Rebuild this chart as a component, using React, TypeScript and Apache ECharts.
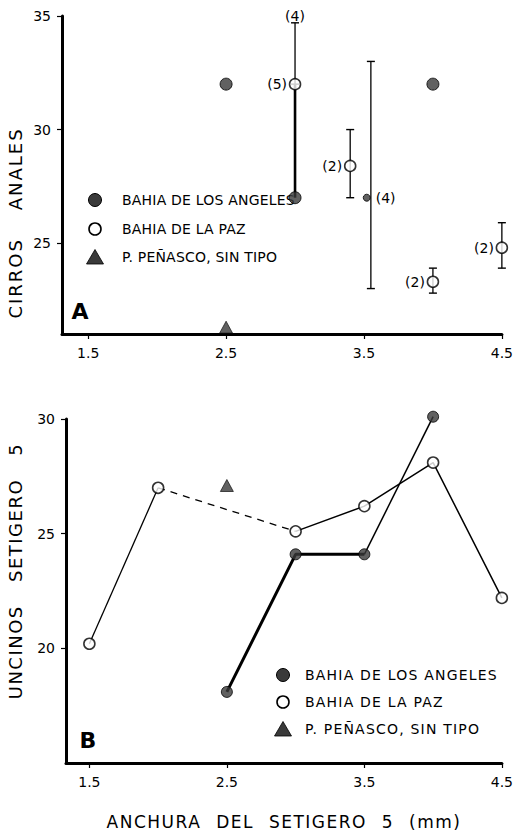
import React, { useEffect, useRef } from "react";
import * as echarts from "echarts";

// ---------- Panel A : CIRROS ANALES ----------
const xTicks = [1.5, 2.5, 3.5, 4.5];
const yTicksA = [25, 30, 35];
const yTicksB = [20, 25, 30];

const angelesA_x = [2.5, 3.0, 4.0];
const angelesA_y = [32, 27, 32];
const angelesSmallA_x = [3.52];
const angelesSmallA_y = [27];
const pazA_x = [3.0, 3.4, 4.0, 4.5];
const pazA_y = [32, 28.4, 23.3, 24.8];
const penascoA_x = [2.5];
const penascoA_y = [21.3];

// ranges (whiskers)
const errA_x = [3.0, 3.4, 3.55, 4.0, 4.5];
const errA_low = [32, 27, 23, 22.8, 23.9];
const errA_high = [34.7, 30, 33, 23.9, 25.9];
// heavy range line at 3.0
const heavyA_x = [3.0];
const heavyA_low = [27];
const heavyA_high = [32];

// sample counts
const countA_x = [3.0, 3.0, 3.4, 3.52, 4.0, 4.5];
const countA_y = [35, 32, 28.4, 27, 23.3, 24.8];
const countA_text = ["(4)", "(5)", "(2)", "(4)", "(2)", "(2)"];
const countA_pos = ["inside", "left", "left", "right", "left", "left"];

// ---------- Panel B : UNCINOS SETIGERO 5 ----------
const pazB_x = [1.5, 2.0, 3.0, 3.5, 4.0, 4.5];
const pazB_y = [20.2, 27.0, 25.1, 26.2, 28.1, 22.2];
const angelesB_x = [2.5, 3.0, 3.5, 4.0];
const angelesB_y = [18.1, 24.1, 24.1, 30.1];
const penascoB_x = [2.5];
const penascoB_y = [27.1];

const legendNames = ["BAHIA DE LOS ANGELES", "BAHIA DE LA PAZ", "P. PEÑASCO, SIN TIPO"];
const panelLetters = ["A", "B"];
const yTitleA = "CIRROS ANALES";
const yTitleB = "UNCINOS SETIGERO 5";
const xTitle = "ANCHURA DEL SETIGERO 5 (mm)";

const INK = "#000";
const FILL = "#3a3a3a";
const FONT = "DejaVu Sans";

const pairs = (xs: number[], ys: number[]) => xs.map((x, i) => [x, ys[i]]);

function rangeSeries(xs: number[], lo: number[], hi: number[], gridIdx: number, width: number, caps: boolean) {
  return {
    type: "custom",
    xAxisIndex: gridIdx,
    yAxisIndex: gridIdx,
    z: 1,
    silent: true,
    clip: false,
    data: xs.map((x, i) => [x, lo[i], hi[i]]),
    renderItem: (_p: any, api: any) => {
      const x = api.value(0);
      const a = api.coord([x, api.value(1)]);
      const b = api.coord([x, api.value(2)]);
      const st = { stroke: INK, lineWidth: width };
      const w = 4;
      const children: any[] = [
        { type: "line", shape: { x1: a[0], y1: a[1], x2: b[0], y2: b[1] }, style: st },
      ];
      if (caps) {
        children.push({ type: "line", shape: { x1: a[0] - w, y1: a[1], x2: a[0] + w, y2: a[1] }, style: { stroke: INK, lineWidth: 1.4 } });
        children.push({ type: "line", shape: { x1: b[0] - w, y1: b[1], x2: b[0] + w, y2: b[1] }, style: { stroke: INK, lineWidth: 1.4 } });
      }
      return { type: "group", children };
    },
  };
}

function countSeries() {
  return {
    type: "custom",
    xAxisIndex: 0,
    yAxisIndex: 0,
    z: 5,
    silent: true,
    clip: false,
    data: countA_x.map((x, i) => [x, countA_y[i], i]),
    renderItem: (_p: any, api: any) => {
      const i = api.value(2);
      const p = api.coord([api.value(0), api.value(1)]);
      const pos = countA_pos[i];
      const dx = pos === "left" ? -8 : pos === "right" ? 9 : 0;
      return {
        type: "text",
        x: p[0] + dx,
        y: p[1],
        style: {
          text: countA_text[i],
          fill: INK,
          fontSize: 14,
          fontFamily: FONT,
          align: pos === "left" ? "right" : pos === "right" ? "left" : "center",
          verticalAlign: "middle",
        },
      };
    },
  };
}

const filledStyle = { color: FILL, borderColor: INK, borderWidth: 1 };
const openStyle = { color: "#fff", borderColor: INK, borderWidth: 1.6 };
const triStyle = { color: FILL, borderColor: INK, borderWidth: 0.8 };

function legendGraphics(ix: number, tx: number, rows: number[], ls: boolean) {
  const g: any[] = [];
  g.push({ type: "circle", shape: { cx: ix, cy: rows[0], r: 6.5 }, style: { fill: FILL, stroke: INK, lineWidth: 1 } });
  g.push({ type: "circle", shape: { cx: ix, cy: rows[1], r: 6 }, style: { fill: "#fff", stroke: INK, lineWidth: 1.6 } });
  g.push({
    type: "polygon",
    shape: { points: [[ix - 8.5, rows[2] + 7], [ix, rows[2] - 7.5], [ix + 8.5, rows[2] + 7]] },
    style: { fill: FILL, stroke: INK, lineWidth: 0.8 },
  });
  legendNames.forEach((n, i) => {
    g.push({
      type: "text",
      x: tx,
      y: rows[i],
      style: {
        text: n,
        fill: INK,
        fontSize: 14,
        fontFamily: ls ? FONT + ", lsbb" : FONT + ", lsaa",
        align: "left",
        verticalAlign: "middle",
      },
    });
  });
  return g;
}

function xAxisCfg(gridIndex: number, min: number) {
  return {
    type: "value",
    gridIndex,
    min,
    max: 4.5,
    axisLine: { show: true, lineStyle: { color: INK, width: 3 } },
    axisTick: { show: true, inside: false, length: 5, customValues: xTicks, lineStyle: { color: INK, width: 1.2 } },
    axisLabel: { show: true, customValues: xTicks, margin: 12, color: INK, fontSize: 14, fontFamily: FONT },
    splitLine: { show: false },
  };
}

function yAxisCfg(gridIndex: number, min: number, max: number, ticks: number[]) {
  return {
    type: "value",
    gridIndex,
    min,
    max,
    axisLine: { show: true, lineStyle: { color: INK, width: 3 } },
    axisTick: { show: true, inside: false, length: 5, customValues: ticks, lineStyle: { color: INK, width: 1.2 } },
    axisLabel: { show: true, customValues: ticks, margin: 11, color: INK, fontSize: 14, fontFamily: FONT },
    splitLine: { show: false },
  };
}

export default function App() {
  const ref = useRef<HTMLDivElement>(null);
  useEffect(() => {
    if (!ref.current) return;
    const chart = echarts.init(ref.current, null, { renderer: "svg" });
    const option: any = {
      animation: false,
      backgroundColor: "#fff",
      grid: [
        { left: 62, top: 16, width: 444, height: 318 },
        { left: 66, top: 419, width: 441, height: 344 },
      ],
      xAxis: [xAxisCfg(0, 1.31), xAxisCfg(1, 1.33)],
      yAxis: [yAxisCfg(0, 21, 35, yTicksA), yAxisCfg(1, 15, 30, yTicksB)],
      series: [
        // Panel A
        rangeSeries(errA_x, errA_low, errA_high, 0, 1.3, true),
        rangeSeries(heavyA_x, heavyA_low, heavyA_high, 0, 2.6, false),
        {
          name: legendNames[0], type: "scatter", xAxisIndex: 0, yAxisIndex: 0, z: 3, clip: false,
          symbol: "circle", symbolSize: 12, itemStyle: filledStyle, data: pairs(angelesA_x, angelesA_y),
        },
        {
          name: legendNames[0], type: "scatter", xAxisIndex: 0, yAxisIndex: 0, z: 3, clip: false,
          symbol: "circle", symbolSize: 7, itemStyle: filledStyle, data: pairs(angelesSmallA_x, angelesSmallA_y),
        },
        {
          name: legendNames[1], type: "scatter", xAxisIndex: 0, yAxisIndex: 0, z: 3, clip: false,
          symbol: "circle", symbolSize: 11, itemStyle: openStyle, data: pairs(pazA_x, pazA_y),
        },
        {
          name: legendNames[2], type: "scatter", xAxisIndex: 0, yAxisIndex: 0, z: 3, clip: false,
          symbol: "triangle", symbolSize: [13, 12], itemStyle: triStyle, data: pairs(penascoA_x, penascoA_y),
        },
        countSeries(),
        // Panel B
        {
          type: "line", xAxisIndex: 1, yAxisIndex: 1, z: 2, symbol: "none", clip: false,
          lineStyle: { color: INK, width: 1.3 }, data: pairs(pazB_x.slice(0, 2), pazB_y.slice(0, 2)),
        },
        {
          type: "line", xAxisIndex: 1, yAxisIndex: 1, z: 2, symbol: "none", clip: false,
          lineStyle: { color: INK, width: 1.3, type: [7, 6] }, data: pairs(pazB_x.slice(1, 3), pazB_y.slice(1, 3)),
        },
        {
          type: "line", xAxisIndex: 1, yAxisIndex: 1, z: 2, symbol: "none", clip: false,
          lineStyle: { color: INK, width: 1.5 }, data: pairs(pazB_x.slice(2), pazB_y.slice(2)),
        },
        {
          type: "line", xAxisIndex: 1, yAxisIndex: 1, z: 2, symbol: "none", clip: false,
          lineStyle: { color: INK, width: 3 }, data: pairs(angelesB_x.slice(0, 3), angelesB_y.slice(0, 3)),
        },
        {
          type: "line", xAxisIndex: 1, yAxisIndex: 1, z: 2, symbol: "none", clip: false,
          lineStyle: { color: INK, width: 1.5 }, data: pairs(angelesB_x.slice(2), angelesB_y.slice(2)),
        },
        {
          name: legendNames[0], type: "scatter", xAxisIndex: 1, yAxisIndex: 1, z: 3, clip: false,
          symbol: "circle", symbolSize: 11, itemStyle: filledStyle, data: pairs(angelesB_x, angelesB_y),
        },
        {
          name: legendNames[1], type: "scatter", xAxisIndex: 1, yAxisIndex: 1, z: 3, clip: false,
          symbol: "circle", symbolSize: 11, itemStyle: openStyle, data: pairs(pazB_x, pazB_y),
        },
        {
          name: legendNames[2], type: "scatter", xAxisIndex: 1, yAxisIndex: 1, z: 3, clip: false,
          symbol: "triangle", symbolSize: [13, 12], itemStyle: triStyle, data: pairs(penascoB_x, penascoB_y),
        },
      ],
      graphic: [
        ...legendGraphics(95, 122, [200, 229, 257], false),
        ...legendGraphics(283, 305, [675, 702, 729], true),
        {
          type: "text", x: 80, y: 311,
          style: { text: panelLetters[0], fill: INK, fontSize: 22, fontWeight: "bold", fontFamily: FONT, align: "center", verticalAlign: "middle" },
        },
        {
          type: "text", x: 88, y: 740,
          style: { text: panelLetters[1], fill: INK, fontSize: 22, fontWeight: "bold", fontFamily: FONT, align: "center", verticalAlign: "middle" },
        },
        {
          type: "text", x: 15, y: 223, rotation: Math.PI / 2,
          style: { text: yTitleA, fill: INK, fontSize: 18, fontFamily: FONT + ", lscc", align: "center", verticalAlign: "middle" },
        },
        {
          type: "text", x: 15, y: 571, rotation: Math.PI / 2,
          style: { text: yTitleB, fill: INK, fontSize: 18, fontFamily: FONT + ", lsdd", align: "center", verticalAlign: "middle" },
        },
        {
          type: "text", x: 284, y: 822,
          style: { text: xTitle, fill: INK, fontSize: 17, fontFamily: FONT + ", lsee", align: "center", verticalAlign: "middle" },
        },
      ],
    };
    chart.setOption(option);
    return () => chart.dispose();
  }, []);

  const css = `
    .chartbox text[style*="lsaa"] { letter-spacing: 0.2px; }
    .chartbox text[style*="lsbb"] { letter-spacing: 1.2px; }
    .chartbox text[style*="lscc"] { letter-spacing: 2px; word-spacing: 20px; }
    .chartbox text[style*="lsdd"] { letter-spacing: 1.5px; word-spacing: 16px; }
    .chartbox text[style*="lsee"] { letter-spacing: 1.5px; word-spacing: 8px; }
  `;

  return (
    <>
      <style>{css}</style>
      <div
        ref={ref}
        className="chartbox"
        style={{ position: "absolute", left: 0, top: 0, width: 516, height: 832, background: "#fff" }}
      />
    </>
  );
}
